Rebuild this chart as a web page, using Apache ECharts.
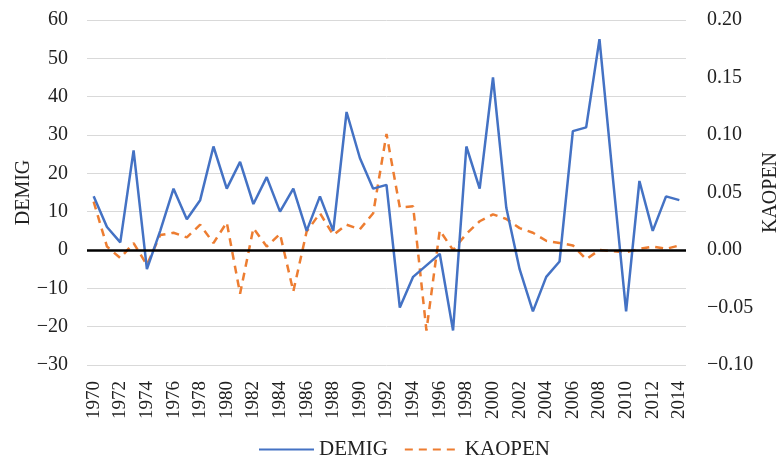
<!DOCTYPE html>
<html>
<head>
<meta charset="utf-8">
<script src="https://cdn.jsdelivr.net/npm/echarts@6/dist/echarts.min.js"></script>
<style>
    html, body { margin: 0; padding: 0; background: #fff; }
    #chart { width: 779px; height: 466px; }
</style>
</head>
<body>
<div id="chart"></div>
<script>
var years = [];
for (var y = 1970; y <= 2014; y++) { years.push(String(y)); }

// DEMIG (left axis)
var demig = [14, 6, 2, 26, -5, 5, 16, 8, 13, 27,
             16, 23, 12, 19, 10, 16, 5, 14, 5, 36,
             24, 16, 17, -15, -7, -4, -1, -21, 27, 16,
             45, 11, -5, -16, -7, -3, 31, 32, 55, 19,
             -16, 18, 5, 14, 13];

// KAOPEN (right axis)
var kaopen = [0.042, 0.003, -0.007, 0.006, -0.013, 0.013, 0.015, 0.011, 0.022, 0.006,
              0.024, -0.038, 0.019, 0.003, 0.014, -0.036, 0.016, 0.032, 0.013, 0.022,
              0.018, 0.032, 0.101, 0.037, 0.038, -0.070, 0.017, 0.000, 0.014, 0.025,
              0.031, 0.027, 0.019, 0.015, 0.008, 0.006, 0.004, -0.008, 0.000, -0.001,
              -0.002, 0.001, 0.003, 0.001, 0.004];

var leftTicks = { min: -30, max: 60, interval: 10 };
var rightTicks = { min: -0.10, max: 0.20, interval: 0.05 };

(function () {
    var dom = document.getElementById("chart");
    var myChart = echarts.init(dom);
    var font = '"Liberation Serif", "DejaVu Serif", serif';

    var option = {
        animation: false,
        textStyle: { fontFamily: font },
        grid: { left: 87, right: 93, top: 20, bottom: 101, outerBoundsMode: 'none' },
        legend: {
            bottom: 1,
            left: 253,
            itemWidth: 55,
            itemHeight: 12,
            itemGap: 16,
            itemStyle: { opacity: 0 },
            textStyle: { fontFamily: font, fontSize: 21, color: '#222' },
            data: ['DEMIG', 'KAOPEN']
        },
        xAxis: {
            type: 'category',
            data: years,
            boundaryGap: true,
            axisLine: { show: false },
            axisTick: { show: false },
            axisLabel: {
                rotate: 90,
                interval: 1,
                margin: 16,
                fontFamily: font,
                fontSize: 19,
                color: '#222'
            }
        },
        yAxis: [{
            type: 'value',
            name: 'DEMIG',
            nameLocation: 'middle',
            nameRotate: 90,
            nameGap: 53,
            nameMoveOverlap: false,
            nameTextStyle: { fontFamily: font, fontSize: 20, color: '#222' },
            min: leftTicks.min,
            max: leftTicks.max,
            interval: leftTicks.interval,
            axisLine: { show: false },
            axisTick: { show: false },
            axisLabel: {
                margin: 19,
                fontFamily: font,
                fontSize: 20,
                color: '#222',
                formatter: function (v) { return v < 0 ? '\u2212' + Math.abs(v) : String(v); }
            },
            splitLine: { lineStyle: { color: '#d9d9d9', width: 1 } }
        }, {
            type: 'value',
            name: 'KAOPEN',
            nameLocation: 'middle',
            nameRotate: 90,
            nameGap: 75,
            nameMoveOverlap: false,
            nameTextStyle: { fontFamily: font, fontSize: 20, color: '#222' },
            min: rightTicks.min,
            max: rightTicks.max,
            interval: rightTicks.interval,
            axisLine: { show: false },
            axisTick: { show: false },
            splitLine: { show: false },
            axisLabel: {
                margin: 21,
                fontFamily: font,
                fontSize: 20,
                color: '#222',
                formatter: function (v) {
                    var s = Math.abs(v).toFixed(2);
                    return v < -1e-9 ? '\u2212' + s : s;
                }
            }
        }],
        series: [{
            name: 'DEMIG',
            type: 'line',
            yAxisIndex: 0,
            data: demig,
            symbol: 'none',
            z: 3,
            lineStyle: { color: '#4472C4', width: 2.5 },
            itemStyle: { color: '#4472C4' },
            markLine: {
                silent: true,
                symbol: 'none',
                label: { show: false },
                lineStyle: { color: '#000', width: 2.5, type: 'solid' },
                data: [{ yAxis: 0 }]
            }
        }, {
            name: 'KAOPEN',
            type: 'line',
            yAxisIndex: 1,
            data: kaopen,
            symbol: 'none',
            z: 2,
            lineStyle: { color: '#ED7D31', width: 2.5, type: [8, 6] },
            itemStyle: { color: '#ED7D31' }
        }]
    };
    if (option && typeof option === "object") {
        myChart.setOption(option, true);
    }
})();
</script>
</body>
</html>
